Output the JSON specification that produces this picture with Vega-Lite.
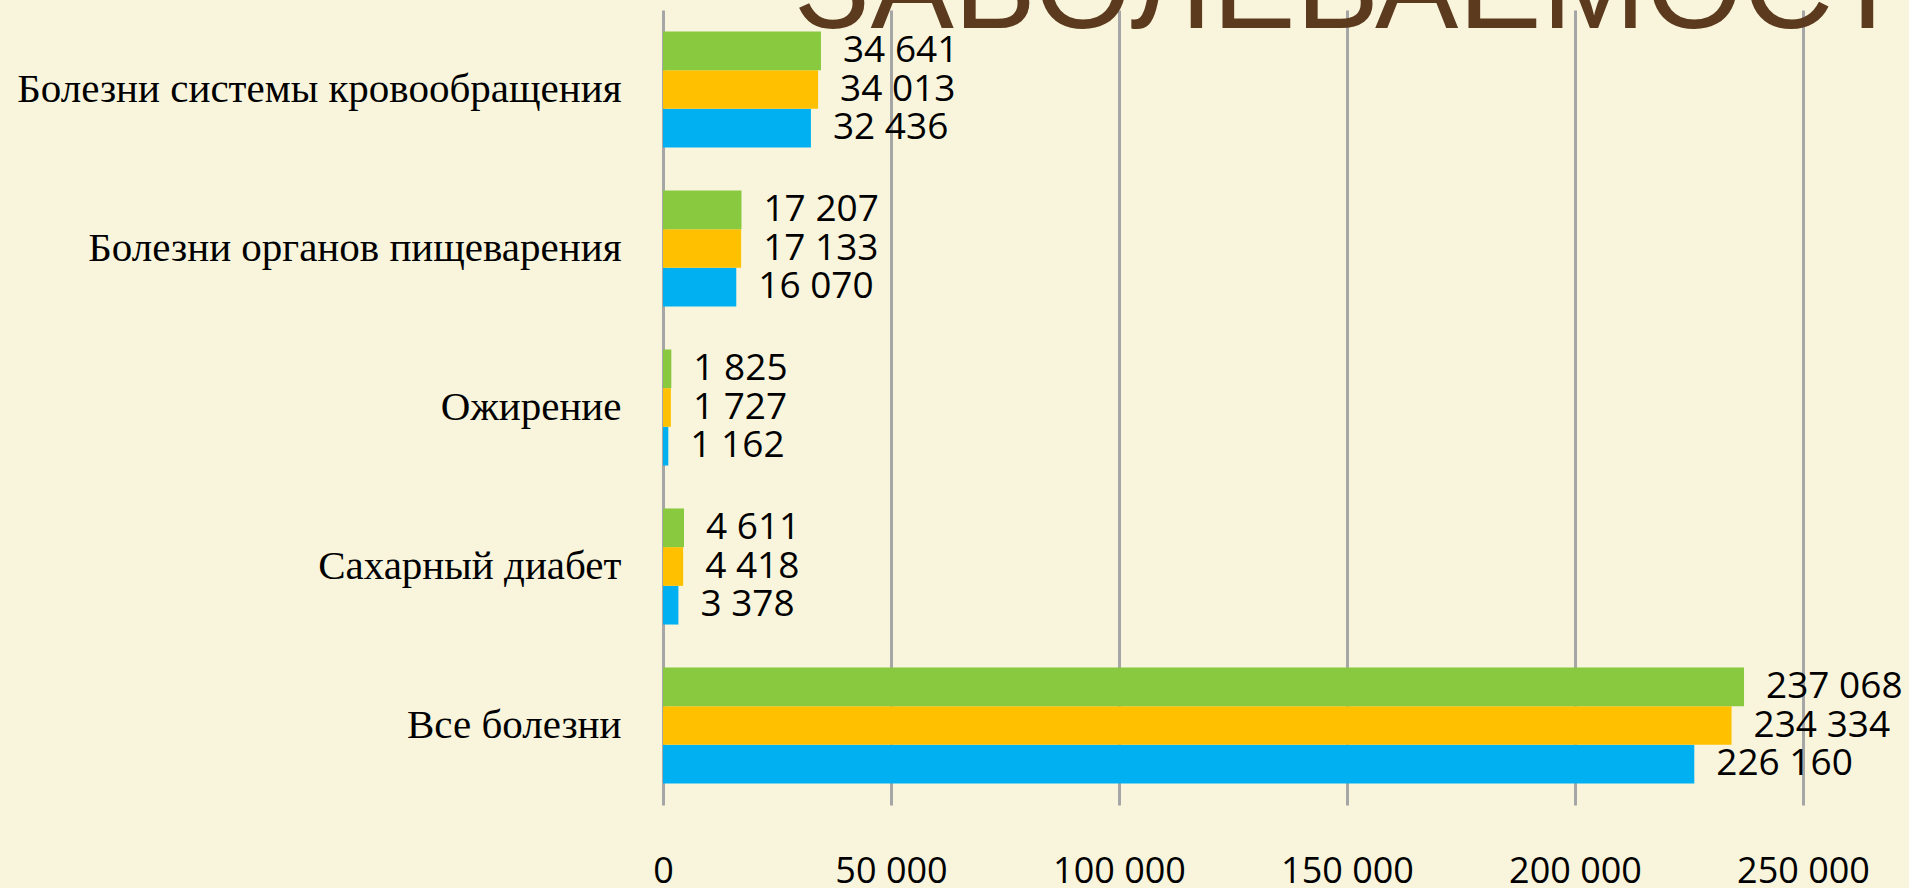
{
  "$schema": "https://vega.github.io/schema/vega-lite/v6.json",
  "autosize": "none",
  "width": 1140,
  "height": 795,
  "padding": {"left": 663, "top": 10, "right": 106, "bottom": 83},
  "background": "#F8F5DC",
  "title": {
    "text": "ЗАБОЛЕВАЕМОСТЬ",
    "anchor": "start",
    "frame": "group",
    "orient": "top",
    "offset": -143,
    "baseline": "alphabetic",
    "dx": 132,
    "fontSize": 125,
    "font": "Liberation Sans",
    "fontWeight": "normal",
    "color": "#5C3A1E",
    "zindex": -1
  },
  "data": {
    "values": [
      {"category": "Болезни системы кровообращения", "series": "Ряд 1", "value": 32436},
      {"category": "Болезни системы кровообращения", "series": "Ряд 2", "value": 34013},
      {"category": "Болезни системы кровообращения", "series": "Ряд 3", "value": 34641},
      {"category": "Болезни органов пищеварения", "series": "Ряд 1", "value": 16070},
      {"category": "Болезни органов пищеварения", "series": "Ряд 2", "value": 17133},
      {"category": "Болезни органов пищеварения", "series": "Ряд 3", "value": 17207},
      {"category": "Ожирение", "series": "Ряд 1", "value": 1162},
      {"category": "Ожирение", "series": "Ряд 2", "value": 1727},
      {"category": "Ожирение", "series": "Ряд 3", "value": 1825},
      {"category": "Сахарный диабет", "series": "Ряд 1", "value": 3378},
      {"category": "Сахарный диабет", "series": "Ряд 2", "value": 4418},
      {"category": "Сахарный диабет", "series": "Ряд 3", "value": 4611},
      {"category": "Все болезни", "series": "Ряд 1", "value": 226160},
      {"category": "Все болезни", "series": "Ряд 2", "value": 234334},
      {"category": "Все болезни", "series": "Ряд 3", "value": 237068}
    ]
  },
  "encoding": {
    "y": {
      "field": "category",
      "type": "nominal",
      "sort": null,
      "scale": {"paddingInner": 0.27, "paddingOuter": 0.135},
      "axis": {
        "title": null,
        "domain": false,
        "ticks": false,
        "grid": false,
        "labelFont": "Liberation Serif",
        "labelFontSize": 41,
        "labelColor": "#000000",
        "labelPadding": 42,
        "labelLimit": 700
      }
    },
    "yOffset": {
      "field": "series",
      "type": "nominal",
      "sort": ["Ряд 3", "Ряд 2", "Ряд 1"]
    },
    "x": {
      "field": "value",
      "type": "quantitative",
      "scale": {"domain": [0, 250000], "nice": false},
      "axis": {
        "title": null,
        "orient": "bottom",
        "domain": false,
        "ticks": false,
        "grid": true,
        "gridColor": "#A6A6A6",
        "gridWidth": 3,
        "values": [0, 50000, 100000, 150000, 200000, 250000],
        "format": ",d",
        "labelFont": "Open Sans",
        "labelFontSize": 36,
        "labelColor": "#000000",
        "labelPadding": 49,
        "labelFlush": false,
        "labelOverlap": false
      }
    }
  },
  "layer": [
    {
      "mark": {"type": "bar"},
      "encoding": {
        "color": {
          "field": "series",
          "type": "nominal",
          "scale": {"domain": ["Ряд 1", "Ряд 2", "Ряд 3"], "range": ["#00B0F0", "#FFC000", "#88C940"]},
          "legend": null
        }
      }
    },
    {
      "mark": {"type": "text", "align": "left", "baseline": "middle", "dx": 22, "font": "Open Sans", "fontSize": 37, "color": "#000000"},
      "encoding": {
        "text": {"field": "value", "type": "quantitative", "format": ",d"}
      }
    }
  ],
  "config": {
    "view": {"stroke": null},
    "locale": {"number": {"decimal": ",", "thousands": " ", "grouping": [3], "currency": ["", " ₽"]}}
  }
}
